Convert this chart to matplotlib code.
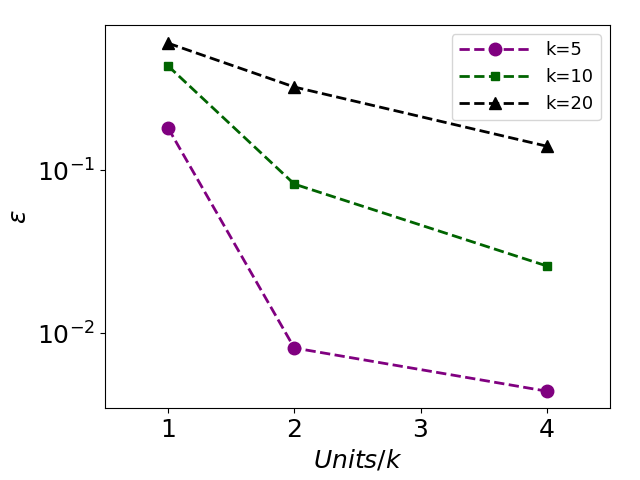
import matplotlib
matplotlib.use("Agg")
import matplotlib.pyplot as plt
from matplotlib.ticker import NullLocator

units = [1, 2, 4]
eps_k5 = [0.181, 0.0081, 0.0044]
eps_k10 = [0.435, 0.082, 0.0258]
eps_k20 = [0.60, 0.323, 0.140]

fig, ax = plt.subplots(figsize=(6.4, 4.8), dpi=100)
ax.plot(units, eps_k5, "--o", color="purple", lw=2, ms=9, label="k=5")
ax.plot(units, eps_k10, "--s", color="darkgreen", lw=2, ms=6, label="k=10")
ax.plot(units, eps_k20, "--^", color="black", lw=2, ms=9, label="k=20")
ax.set_yscale("log")
ax.yaxis.set_minor_locator(NullLocator())
ax.set_xlim(0.5, 4.5)
ax.set_ylim(0.00347, 0.776)
ax.set_xticks([1, 2, 3, 4])
ax.tick_params(labelsize=18)
ax.set_xlabel(r"$Units/k$", fontsize=18)
ax.set_ylabel(r"$\epsilon$", fontsize=18)
ax.legend(loc="upper right", fontsize=13, handlelength=4)
fig.subplots_adjust(left=0.164, right=0.953, top=0.948, bottom=0.15)
fig.savefig("out.png", dpi=100)
